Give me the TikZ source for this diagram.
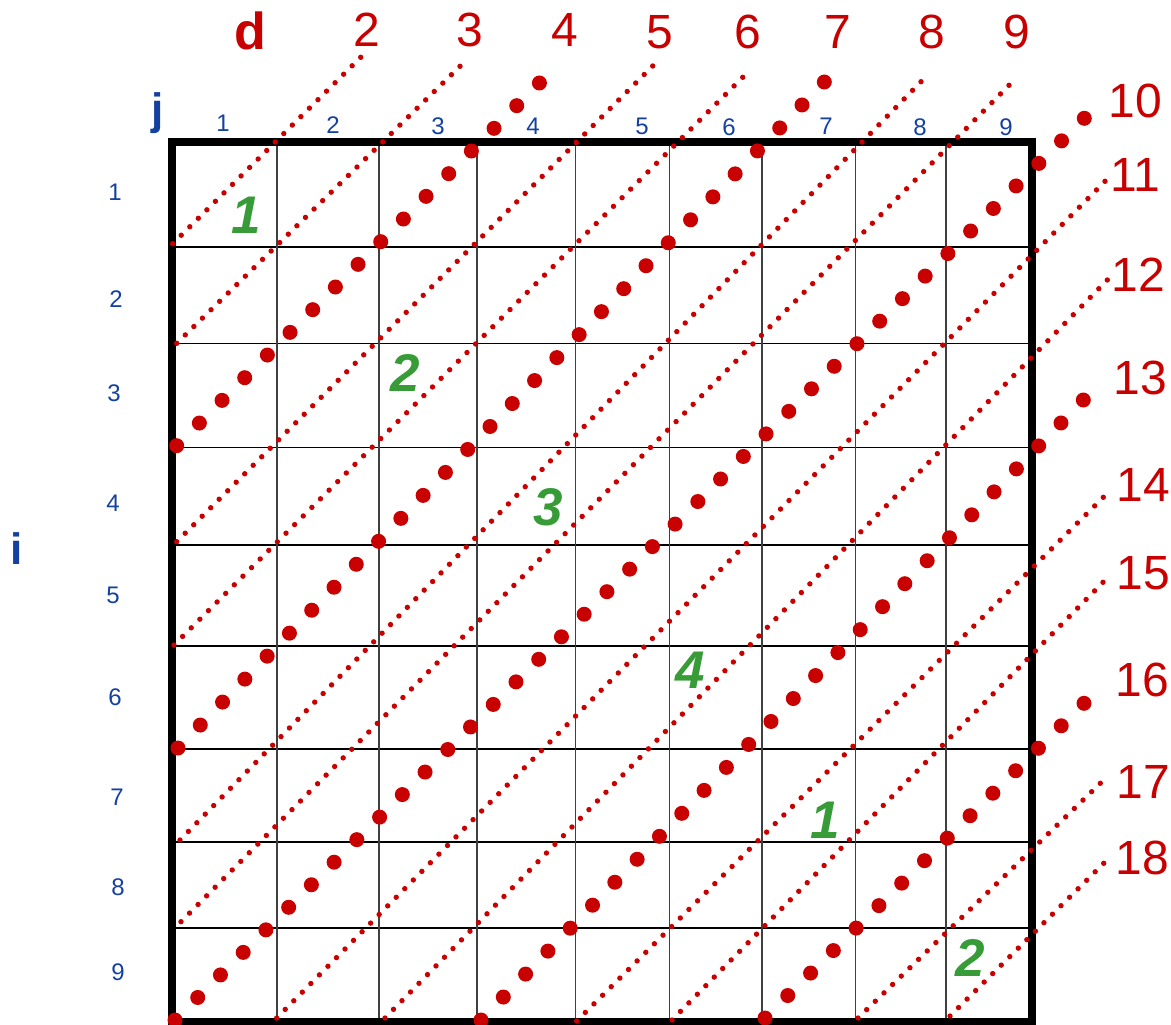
\documentclass[tikz,border=0pt]{standalone}
\usepackage{fontspec}
\setmainfont{Liberation Sans}
\usetikzlibrary{calc}
\definecolor{dred}{RGB}{200,0,0}
\definecolor{lblue}{RGB}{20,65,160}
\definecolor{pgreen}{RGB}{55,155,55}

\begin{document}
\begin{tikzpicture}[x=1pt,y=-1pt,
  lab/.style={inner sep=0pt},
  colnum/.style={lab,text=lblue,font=\fontsize{24}{24}\selectfont},
  dnum/.style={lab,text=dred,font=\fontsize{48}{48}\selectfont},
  phase/.style={lab,text=pgreen,font=\fontsize{53}{53}\selectfont\bfseries\itshape},
  axisname/.style={lab,text=lblue,font=\fontsize{44}{44}\selectfont\bfseries}]
  \useasboundingbox (0,0) rectangle (1171,1025);
  % Grid
  \foreach \y in {247.3,343.5,447.5,545.3,646,749,842,928}
    \draw[line width=1.8] (172,\y) -- (1032,\y);
  \foreach \x in {277,379,477,575.5,669.5,762,855.5,946}
    \draw[line width=1.5,black!75] (\x,142) -- (\x,1021);
  \draw[line width=8] (172,142) rectangle (1032,1021.5);
  % Diagonals d = i + j (start, end, gap, radius)
  \foreach \xa/\ya/\xb/\yb/\gap/\rad in {
      172.7/243.7/360.7/57.3/12.1/2.7,
      176.7/343.3/460/66.3/12.1/2.7,
      176.7/445.7/539.4/83/32/7.5,
      176.7/541.7/652.7/66/12.1/2.7,
      174/645/742.7/77.3/12.1/2.7,
      178/748/824.3/82/32/7.5,
      180/840/921/81.7/12.1/2.7,
      181/921.7/1009/85.3/12.1/2.7,
      175/1020/1084.3/118.3/32/7.5,
      276.7/1018/1105/181.3/12.1/2.7,
      385/1018/1107.3/280/12.1/2.7,
      481/1020/1083.3/400/32/7.5,
      576.7/1021/1103.3/497.3/12.1/2.7,
      672/1020/1103/582.3/12.1/2.7,
      765/1018/1084/703.3/32/7.5,
      858/1018/1100.3/783.3/12.1/2.7,
      950/1016/1103.7/863.3/12.1/2.7}
  {
    \pgfmathsetmacro\len{veclen(\xb-\xa,\yb-\ya)}
    \pgfmathtruncatemacro\nd{round(\len/\gap)}
    \foreach \k in {0,...,\nd}
      \fill[dred] ($(\xa,\ya)!\k/\nd!(\xb,\yb)$) circle (\rad);
  }
  % Column and row numbers
  \foreach \x/\y/\t in {223/123/1,333/125/2,438/126/3,533/126/4,642/126/5,
      729/127/6,826/126/7,920/127/8,1006/127/9}
    \node[colnum] (col\t) at (\x,\y) {\t};
  \foreach \x/\y/\t in {115/192/1,116/299/2,114/393/3,113/503/4,113/595/5,
      115/697/6,117/797/7,118/887/8,118/972/9}
    \node[colnum] (row\t) at (\x,\y) {\t};
  \node[axisname] (jname) at (157.5,113) {j};
  \node[axisname] (iname) at (16.7,548.3) {i};
  \node[axisname,text=dred,font=\fontsize{52}{52}\selectfont\bfseries] (dname) at (250.5,31) {d};
  % Diagonal numbers
  \foreach \x/\y/\t in {367/30/2,470/30/3,565/30/4,660/32/5,748/32/6,
      838/32/7,932/32/8,1017/32/9,1135/101/10,1135/175/11,1138/275/12,
      1140/378/13,1143/485/14,1143/573/15,1142/680/16,1143/782/17,1142/858/18}
    \node[dnum] (dn\t) at (\x,\y) {\t};
  % Phases
  \node[phase] (ph1) at (246,215) {1};
  \node[phase] (ph2) at (405,373) {2};
  \node[phase] (ph3) at (548,507) {3};
  \node[phase] (ph4) at (690,670) {4};
  \node[phase] (ph5) at (825,820) {1};
  \node[phase] (ph6) at (970,957.5) {2};
\end{tikzpicture}
\end{document}
